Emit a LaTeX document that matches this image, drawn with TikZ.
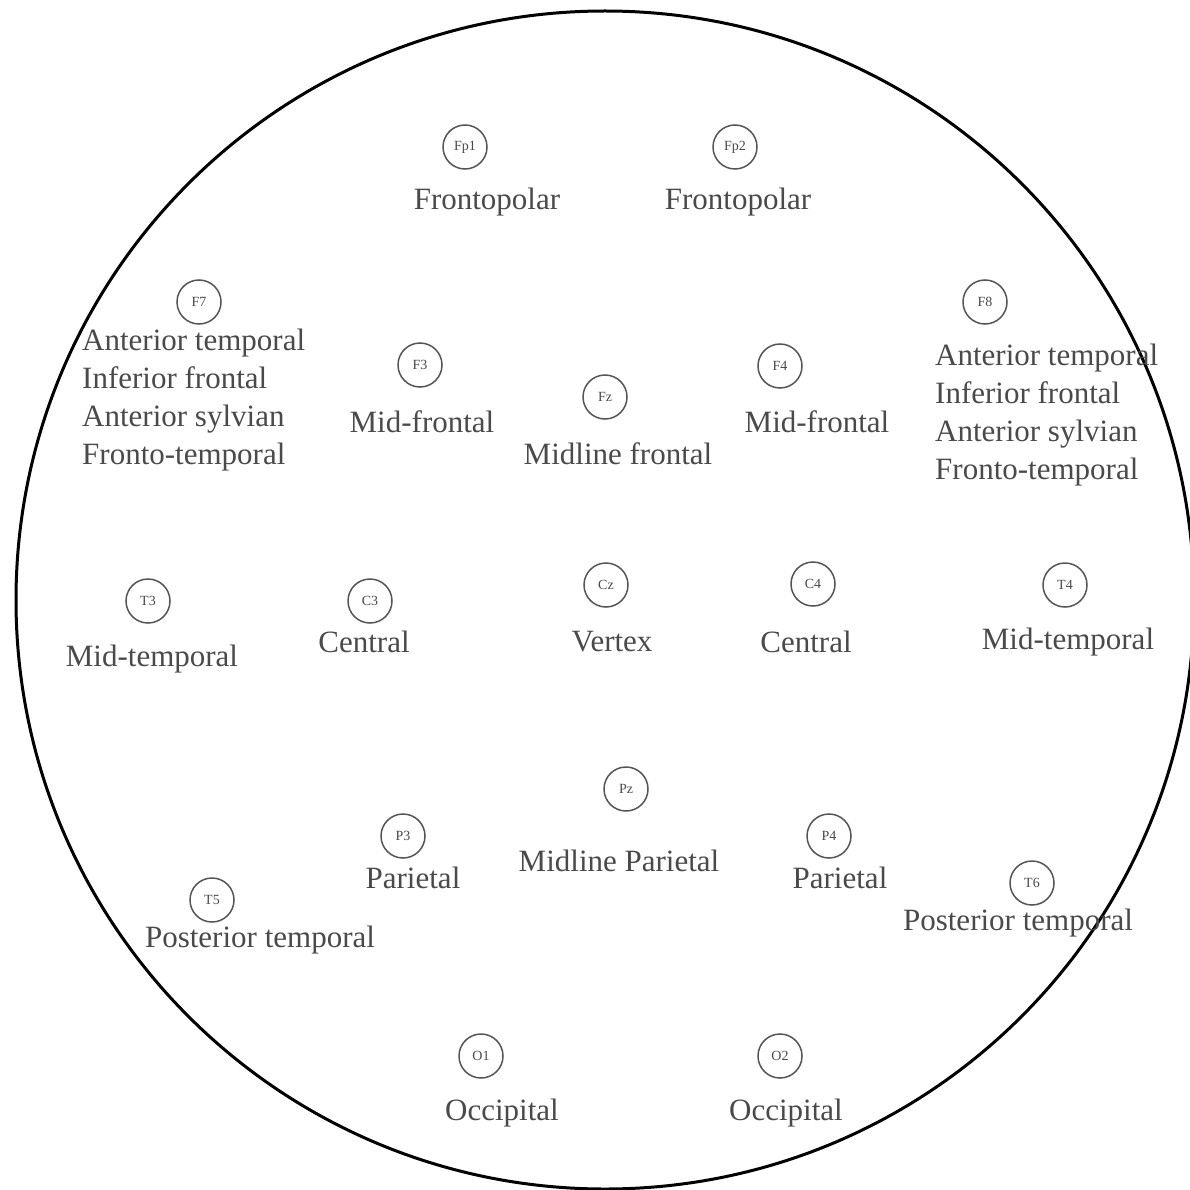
\documentclass[tikz,border=0pt]{standalone}
\usepackage{fontspec}
\setmainfont{Liberation Serif}
\definecolor{txt}{HTML}{4A4A4A}
\definecolor{ring}{HTML}{555555}
\begin{document}
\begin{tikzpicture}[x=1pt,y=-1pt,
  electrode/.style={circle,draw=ring,line width=1.5pt,minimum size=44pt,inner sep=0pt,
    text=txt,font=\fontsize{14}{15}\selectfont},
  region/.style={text=txt,inner sep=0pt,font=\fontsize{31}{37.7}\selectfont},
  block/.style={region,align=left,anchor=west}]
\useasboundingbox (0,0) rectangle (1190,1190);
\fill[white] (0,0) rectangle (1190,1190);
\node[circle,draw=black,line width=3pt,minimum size=1178pt,inner sep=0pt] (head) at (605,600) {};
% frontopolar
\node[electrode] (Fp1) at (465,147) {Fp1};
\node[region] (Fp1l) at (487,202) {Frontopolar};
\node[electrode] (Fp2) at (735,147) {Fp2};
\node[region] (Fp2l) at (738,202) {Frontopolar};
% frontal
\node[electrode] (F7) at (199,302) {F7};
\node[block] (F7l) at (82,400) {Anterior temporal\\Inferior frontal\\Anterior sylvian\\Fronto-temporal};
\node[electrode] (F3) at (420,365) {F3};
\node[region] (F3l) at (422,422) {Mid-frontal};
\node[electrode] (Fz) at (605,397) {Fz};
\node[region] (Fzl) at (618,454) {Midline frontal};
\node[electrode] (F4) at (780,366) {F4};
\node[region] (F4l) at (817,422) {Mid-frontal};
\node[electrode] (F8) at (985,302) {F8};
\node[block] (F8l) at (935,415) {Anterior temporal\\Inferior frontal\\Anterior sylvian\\Fronto-temporal};
% central / temporal
\node[electrode] (T3) at (148,601) {T3};
\node[region] (T3l) at (152,659) {Mid-temporal};
\node[electrode] (C3) at (370,601) {C3};
\node[region] (C3l) at (364,642) {Central};
\node[electrode] (Cz) at (606,585) {Cz};
\node[region] (Czl) at (612,642) {Vertex};
\node[electrode] (C4) at (813,584) {C4};
\node[region] (C4l) at (806,642) {Central};
\node[electrode] (T4) at (1065,585) {T4};
\node[region] (T4l) at (1068,642) {Mid-temporal};
% parietal
\node[electrode] (Pz) at (626,789) {Pz};
\node[region] (Pzl) at (619,861) {Midline Parietal};
\node[electrode] (P3) at (403,836) {P3};
\node[region] (P3l) at (413,878) {Parietal};
\node[electrode] (P4) at (829,836) {P4};
\node[region] (P4l) at (840,878) {Parietal};
\node[electrode] (T5) at (212,900) {T5};
\node[region] (T5l) at (260,940) {Posterior temporal};
\node[electrode] (T6) at (1032,883) {T6};
\node[region] (T6l) at (1018,923) {Posterior temporal};
% occipital
\node[electrode] (O1) at (481,1056) {O1};
\node[region] (O1l) at (502,1113) {Occipital};
\node[electrode] (O2) at (780,1056) {O2};
\node[region] (O2l) at (786,1113) {Occipital};
\end{tikzpicture}
\end{document}
